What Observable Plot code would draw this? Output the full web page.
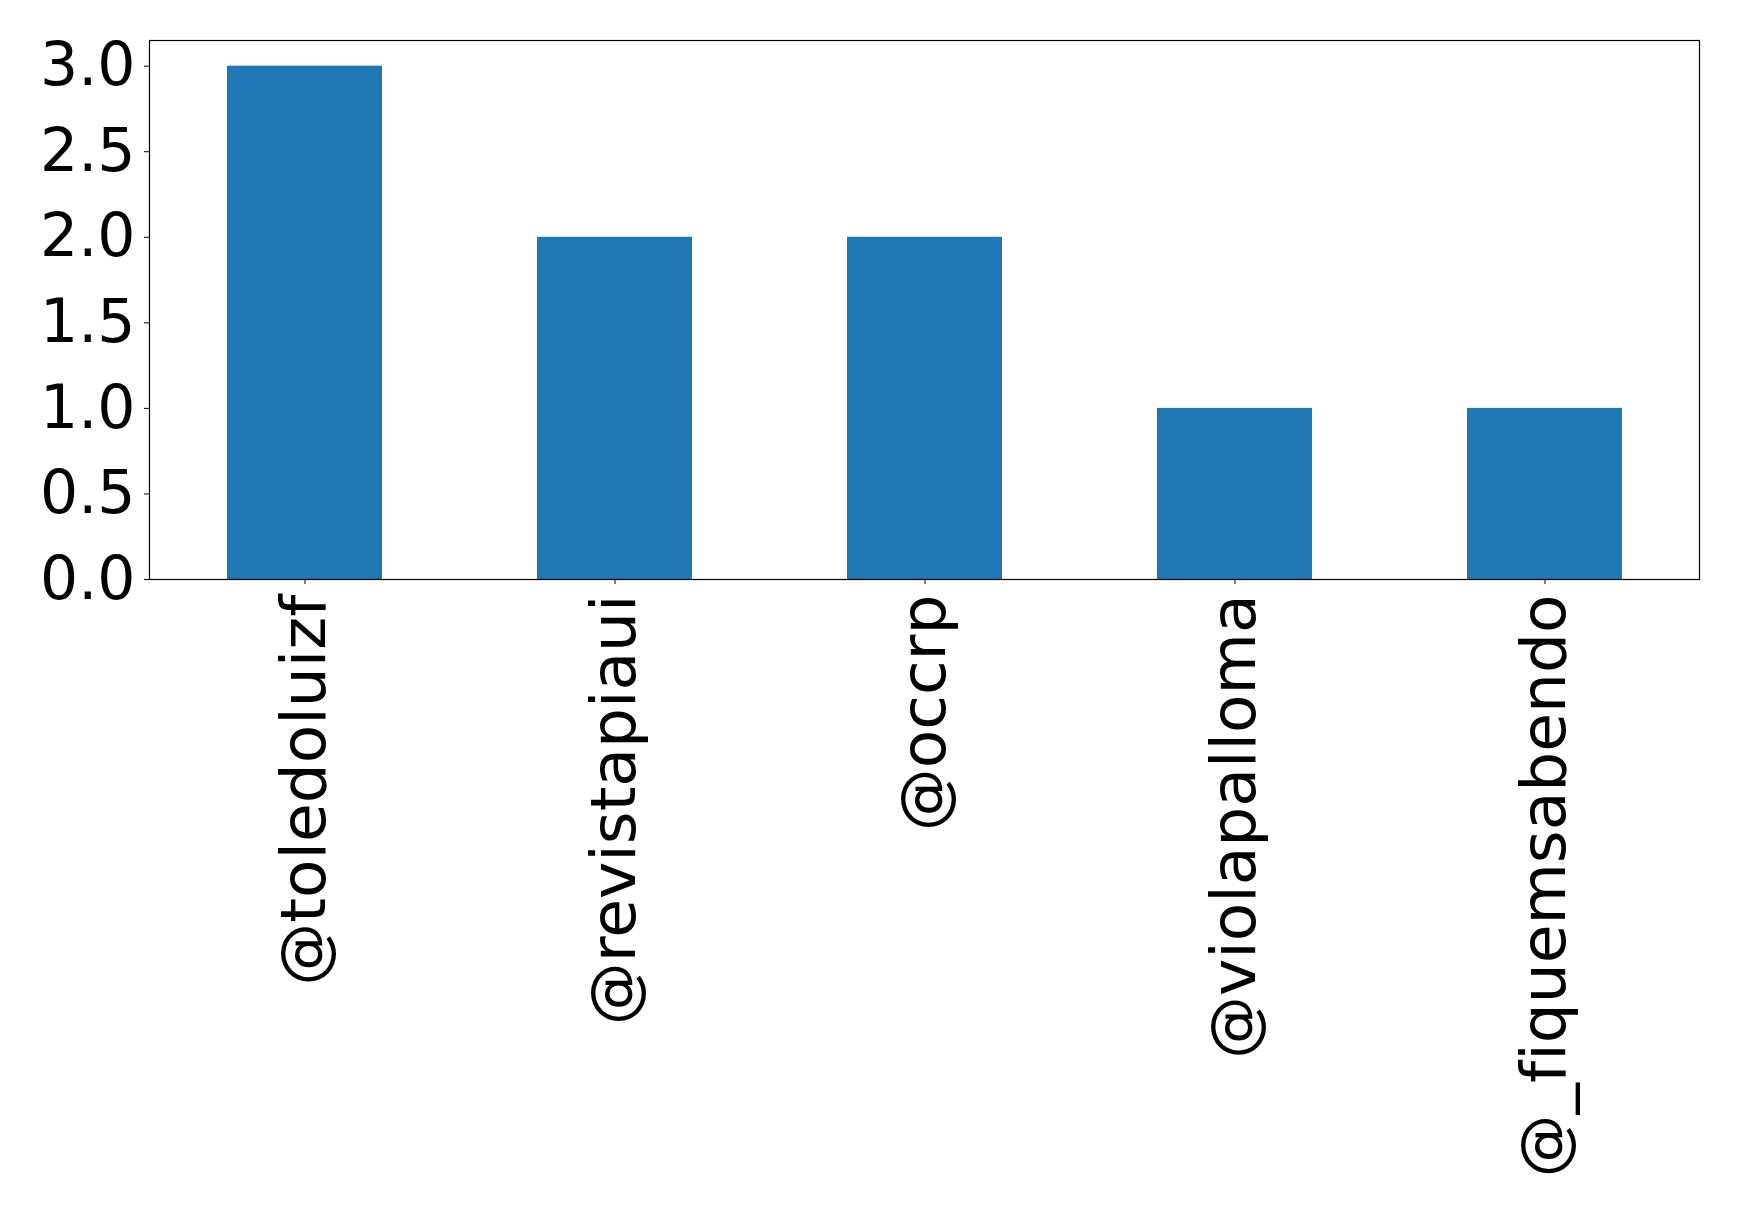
<!DOCTYPE html>
<html>
<head>
<meta charset="utf-8">
<script src="https://cdn.jsdelivr.net/npm/d3@7"></script>
<script src="https://cdn.jsdelivr.net/npm/@observablehq/plot@0.6"></script>
<style>
  html, body { margin: 0; padding: 0; background: #fff; }
  #chart svg { display: block; }
  #chart svg text { font-variant-ligatures: none; font-feature-settings: "liga" 0; }
</style>
</head>
<body>
<div id="chart"></div>
<script>
const users = ["@toledoluizf", "@revistapiaui", "@occrp", "@violapalloma", "@_fiquemsabendo"];
const counts = [3, 2, 2, 1, 1];
const yTicks = [0, 0.5, 1.0, 1.5, 2.0, 2.5, 3.0];

const data = users.map((u, i) => ({user: u, count: counts[i]}));

const chart = Plot.plot({
  width: 1739,
  height: 1206,
  marginLeft: 149,
  marginRight: 40,
  marginTop: 40,
  marginBottom: 627,
  style: {fontFamily: "DejaVu Sans", fontSize: "60px", color: "#000", background: "#fff"},
  x: {domain: users, paddingInner: 0.5, paddingOuter: 0.25, label: null},
  y: {domain: [0, 3.15], label: null},
  marks: [
    Plot.barY(data, {x: "user", y: "count", fill: "#1f77b4"}),
    Plot.axisY({ticks: yTicks, tickFormat: d => d.toFixed(1), tickSize: 5, tickPadding: 9, fontSize: 60, label: null}),
    Plot.axisX({tickSize: 5, tickPadding: 10, tickRotate: -90, fontSize: 63, label: null}),
    Plot.frame({stroke: "#000", strokeWidth: 1.2})
  ]
});
document.getElementById("chart").appendChild(chart);
</script>
</body>
</html>
